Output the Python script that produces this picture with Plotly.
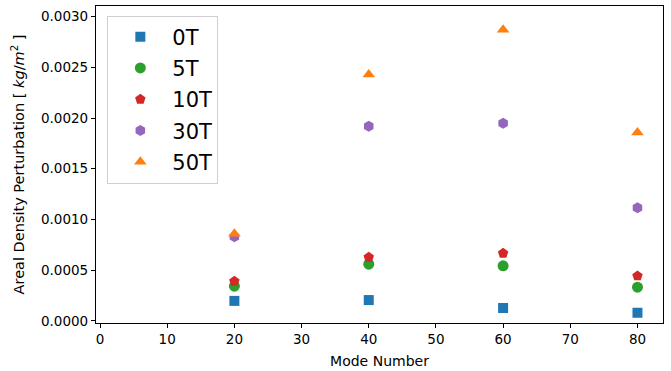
import plotly.graph_objects as go

modes = [20, 40, 60, 80]
series_names = ["0T", "5T", "10T", "30T", "50T"]
vals_0T = [0.000198, 0.000206, 0.000128, 0.000081]
vals_5T = [0.000343, 0.000560, 0.000543, 0.000333]
vals_10T = [0.000392, 0.000628, 0.000668, 0.000444]
vals_30T = [0.000830, 0.001918, 0.001948, 0.001115]
vals_50T = [0.000860, 0.002430, 0.002870, 0.001858]

series_vals = [vals_0T, vals_5T, vals_10T, vals_30T, vals_50T]
colors = ["#1f77b4", "#2ca02c", "#d62728", "#9467bd", "#ff7f0e"]
symbols = ["square", "circle", "pentagon", "hexagon", "triangle-up"]
sizes = [10, 11, 11, 11, 11]

fig = go.Figure()
for name, vals, c, s, sz in zip(series_names, series_vals, colors, symbols, sizes):
    fig.add_trace(go.Scatter(
        x=modes, y=vals, mode="markers", name=name, legendgroup=name,
        marker=dict(symbol=s, color=c, size=sz, line=dict(width=0)),
    ))

font_family = "DejaVu Sans, sans-serif"
fig.update_layout(
    width=671, height=371,
    margin=dict(l=96, r=8, t=5, b=47),
    paper_bgcolor="white", plot_bgcolor="white",
    font=dict(family=font_family, size=13.5, color="black"),
    showlegend=True,
    legend=dict(
        x=0.02, y=0.97, xanchor="left", yanchor="top",
        bgcolor="white", bordercolor="#d0d0d0", borderwidth=1,
        font=dict(size=21, family=font_family, color="black"),
        itemwidth=54, tracegroupgap=1,
    ),
)
fig.update_xaxes(
    range=[-0.6, 83.8], dtick=10, tick0=0,
    showgrid=False, zeroline=False,
    showline=True, linecolor="black", linewidth=1.2, mirror=True,
    ticks="outside", ticklen=4, tickcolor="black",
    title=dict(text="Mode Number", standoff=9, font=dict(size=14)),
)
fig.update_yaxes(
    range=[-0.00002, 0.003104], dtick=0.0005, tick0=0, tickformat=".4f",
    showgrid=False, zeroline=False,
    showline=True, linecolor="black", linewidth=1.2, mirror=True,
    ticks="outside", ticklen=4, tickcolor="black",
    title=dict(text="Areal Density Perturbation [ <i>kg</i>/<i>m</i><sup>2</sup> ]",
               standoff=12, font=dict(size=14.5)),
)

fig.write_html("out.html")
